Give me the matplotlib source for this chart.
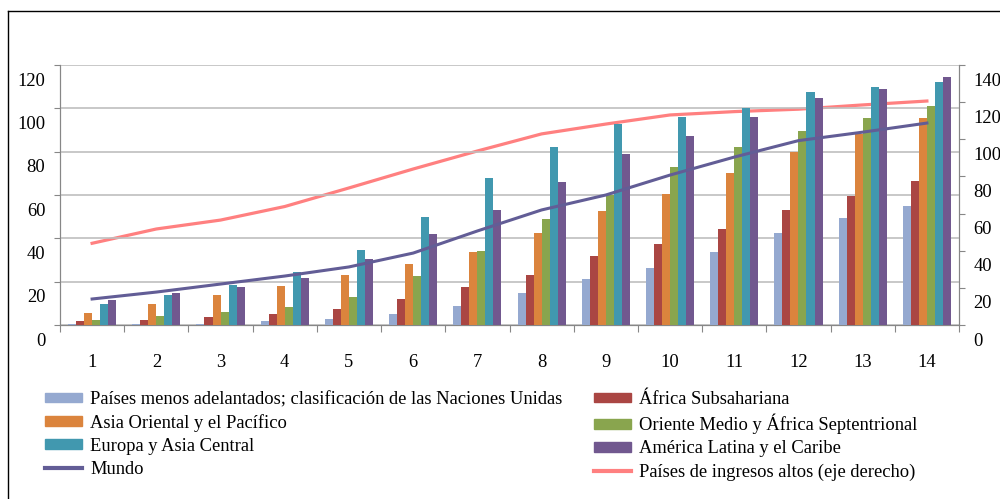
import matplotlib
matplotlib.use("Agg")
import matplotlib.pyplot as plt
import matplotlib.transforms as mtransforms
from matplotlib.lines import Line2D
from matplotlib.patches import Patch
import numpy as np

plt.rcParams['font.family'] = ['Liberation Serif', 'DejaVu Serif']

# data
years = list(range(1, 15))

pma = [0.3, 0.3, 0.5, 1.8, 2.8, 5.1, 8.8, 14.8, 21.2, 26.3, 33.7, 42.5, 49.4, 54.9]
africa_sub = [1.8, 2.3, 3.8, 5.1, 7.4, 12.0, 17.5, 23.1, 31.8, 37.4, 44.3, 53.1, 59.5, 66.5]
asia_pac = [5.5, 9.7, 13.8, 18.0, 23.1, 28.2, 33.7, 42.5, 52.6, 60.5, 70.1, 79.8, 88.1, 95.5]
oriente = [2.3, 4.2, 6.0, 8.3, 12.9, 22.6, 34.1, 48.9, 60.0, 72.9, 82.1, 89.5, 95.5, 101.0]
europa = [9.7, 13.8, 18.5, 24.5, 34.6, 49.8, 67.8, 82.1, 93.0, 96.0, 100.1, 107.5, 109.8, 112.1]
america = [11.5, 14.8, 17.5, 21.7, 30.5, 42.0, 53.1, 66.0, 78.9, 87.2, 96.0, 104.8, 108.9, 114.4]

mundo = [12.0, 15.2, 18.9, 22.6, 26.8, 33.2, 43.4, 53.1, 60.0, 69.2, 77.5, 85.1, 89.0, 93.2]
ingresos_altos = [44.0, 51.7, 56.5, 63.8, 73.8, 84.0, 93.7, 102.9, 108.2, 113.1, 114.9, 116.2, 118.5, 120.6]

bar_series = [
    ("Países menos adelantados; clasificación de las Naciones Unidas", pma, "#95A9D0"),
    ("África Subsahariana", africa_sub, "#AA4643"),
    ("Asia Oriental y el Pacífico", asia_pac, "#DB843D"),
    ("Oriente Medio y África Septentrional", oriente, "#89A54E"),
    ("Europa y Asia Central", europa, "#4198AF"),
    ("América Latina y el Caribe", america, "#71588F"),
]
mundo_color = "#625D96"
altos_color = "#FF8080"

fig = plt.figure(figsize=(10, 4.99), dpi=100)
ax = fig.add_axes([0.060, 1 - 325 / 499, 0.899, 260 / 499])
ax2 = ax.twinx()
ax.set_zorder(2)
ax2.set_zorder(1)
ax.patch.set_visible(False)

x = np.arange(len(years))
w = 0.125
for i, (name, vals, col) in enumerate(bar_series):
    ax.bar(x + (i - 2.5) * w, vals, width=w, color=col, zorder=3)

ax.plot(x, mundo, color=mundo_color, lw=2.2, zorder=4)
ax2.plot(x, ingresos_altos, color=altos_color, lw=2.3)

ax.set_xlim(-0.5, len(years) - 0.5)
ax.set_ylim(0, 120)
ax2.set_ylim(0, 140)

grid_col = "#BFBFBF"
spine_col = "#878787"
ax.set_yticks(range(0, 121, 20))
ax.yaxis.grid(True, color=grid_col, lw=1.2, zorder=0)
ax.set_axisbelow(True)
ax2.set_yticks(range(0, 141, 20))

for a in (ax, ax2):
    for s in a.spines.values():
        s.set_color(spine_col)
    a.spines['top'].set_visible(False)

ax.tick_params(axis='y', direction='out', length=4, color=spine_col,
               labelsize=13.3, pad=6.5)
ax2.tick_params(axis='y', direction='out', length=4, color=spine_col,
                labelsize=13.3, pad=6.5)

# x axis: ticks between categories, labels at the centres
ax.set_xticks(np.arange(-0.5, len(years), 1.0))
ax.set_xticklabels([])
ax.set_xticks(x, minor=True)
ax.set_xticklabels([str(v) for v in years], minor=True)
ax.tick_params(axis='x', which='major', direction='out', length=5, color=spine_col)
ax.tick_params(axis='x', which='minor', length=0, labelsize=13.3, pad=21)

# tick labels sit a bit below their ticks in the source
shift = mtransforms.ScaledTranslation(0, -14 / 100, fig.dpi_scale_trans)
for lab in ax.get_yticklabels() + ax2.get_yticklabels():
    lab.set_transform(lab.get_transform() + shift)

# legend, two columns
col1 = [Patch(color=bar_series[0][2]), Patch(color=bar_series[2][2]),
        Patch(color=bar_series[4][2]), Line2D([], [], color=mundo_color, lw=3)]
lab1 = [bar_series[0][0], bar_series[2][0], bar_series[4][0], "Mundo"]
col2 = [Patch(color=bar_series[1][2]), Patch(color=bar_series[3][2]),
        Patch(color=bar_series[5][2]), Line2D([], [], color=altos_color, lw=3)]
lab2 = [bar_series[1][0], bar_series[3][0], bar_series[5][0],
        "Países de ingresos altos (eje derecho)"]

leg_kw = dict(frameon=False, fontsize=13.3, handlelength=2.0, handleheight=0.42,
              handletextpad=0.45, labelspacing=0.32, borderpad=0, borderaxespad=0)
leg1 = fig.legend(col1, lab1, loc='upper left', bbox_to_anchor=(0.045, 1 - 391 / 499), **leg_kw)
leg2 = fig.legend(col2, lab2, loc='upper left', bbox_to_anchor=(0.594, 1 - 391 / 499), **leg_kw)

# outer frame
fig.add_artist(Line2D([0.008, 1.0], [1 - 11 / 499, 1 - 11 / 499], color='black', lw=1,
                      transform=fig.transFigure))
fig.add_artist(Line2D([0.008, 0.008], [0.0, 1 - 11 / 499], color='black', lw=1,
                      transform=fig.transFigure))

fig.savefig("out.png", dpi=100)
